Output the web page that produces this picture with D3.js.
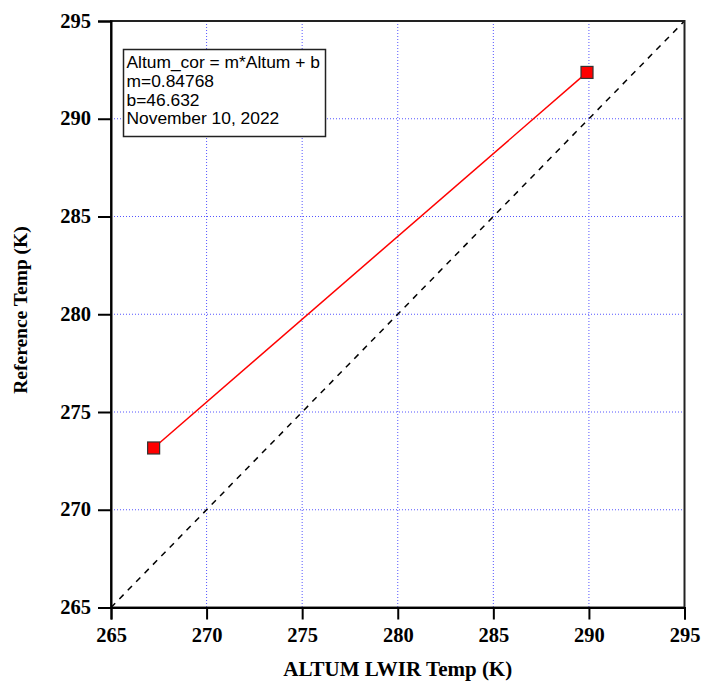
<!DOCTYPE html>
<html>
<head>
<meta charset="utf-8">
<script src="https://cdn.jsdelivr.net/npm/d3@7"></script>
<style>
  html, body { margin: 0; padding: 0; background: #fff; }
  svg { display: block; }
</style>
</head>
<body>
<svg id="chart" width="701" height="684"></svg>
<script>
// Calibration points: ALTUM LWIR reading vs reference temperature (K)
const altumTemps = [267.23, 289.90];
const referenceTemps = [273.16, 292.37];
const xTicks = [265, 270, 275, 280, 285, 290, 295];
const yTicks = [265, 270, 275, 280, 285, 290, 295];
const fitLines = [
  "Altum_cor = m*Altum + b",
  "m=0.84768",
  "b=46.632",
  "November 10, 2022"
];

const svg = d3.select("#chart");
const margin = { left: 111, right: 16.5, top: 21, bottom: 76.5 };
const W = 701, H = 684;

const x = d3.scaleLinear().domain([265, 295]).range([margin.left, W - margin.right]);
const y = d3.scaleLinear().domain([265, 295]).range([H - margin.bottom, margin.top]);

const serif = "'Liberation Serif', 'Times New Roman', serif";
const sans = "'Liberation Sans', Arial, sans-serif";

// dotted grid
const grid = svg.append("g");
grid.selectAll("line.gx").data(xTicks.slice(1, -1)).join("line")
  .attr("x1", d => x(d)).attr("x2", d => x(d))
  .attr("y1", y(295)).attr("y2", y(265))
  .attr("stroke", "#5555ff").attr("stroke-width", 1)
  .attr("stroke-dasharray", "1,2");
grid.selectAll("line.gy").data(yTicks.slice(1, -1)).join("line")
  .attr("y1", d => y(d)).attr("y2", d => y(d))
  .attr("x1", x(265)).attr("x2", x(295))
  .attr("stroke", "#5555ff").attr("stroke-width", 1)
  .attr("stroke-dasharray", "1,2");

// 1:1 reference line
svg.append("line")
  .attr("x1", x(265)).attr("y1", y(265))
  .attr("x2", x(295)).attr("y2", y(295))
  .attr("stroke", "#000").attr("stroke-width", 1.5)
  .attr("stroke-dasharray", "6,6");

// frame
svg.append("rect")
  .attr("x", x(265)).attr("y", y(295))
  .attr("width", x(295) - x(265)).attr("height", y(265) - y(295))
  .attr("fill", "none").attr("stroke", "#222").attr("stroke-width", 2);

// axes
const xAxis = svg.append("g")
  .attr("transform", `translate(0,${y(265)})`)
  .call(d3.axisBottom(x).tickValues(xTicks).tickSize(12).tickPadding(8).tickFormat(d3.format("d")));
const yAxis = svg.append("g")
  .attr("transform", `translate(${x(265)},0)`)
  .call(d3.axisLeft(y).tickValues(yTicks).tickSize(13).tickPadding(7).tickFormat(d3.format("d")));
[xAxis, yAxis].forEach(a => {
  a.select(".domain").attr("stroke", "#000").attr("stroke-width", 2);
  a.selectAll(".tick line").attr("stroke", "#000").attr("stroke-width", 2);
  a.selectAll(".tick text")
    .attr("fill", "#000")
    .style("font-family", serif).style("font-weight", "bold").style("font-size", "20.5px");
});
yAxis.selectAll(".tick text").attr("dy", "0.3em");

// axis titles
svg.append("text")
  .attr("x", (x(265) + x(295)) / 2).attr("y", 676)
  .attr("text-anchor", "middle")
  .style("font-family", serif).style("font-weight", "bold").style("font-size", "21px")
  .text("ALTUM LWIR Temp (K)");
svg.append("text")
  .attr("transform", `translate(27,310) rotate(-90)`)
  .attr("text-anchor", "middle")
  .style("font-family", serif).style("font-weight", "bold").style("font-size", "19.5px")
  .text("Reference Temp (K)");

// fitted line through the calibration points
const pts = altumTemps.map((v, i) => [v, referenceTemps[i]]);
svg.append("path")
  .datum(pts)
  .attr("d", d3.line().x(d => x(d[0])).y(d => y(d[1])))
  .attr("fill", "none").attr("stroke", "#ff0000").attr("stroke-width", 1.5);

const s = 12;
svg.selectAll("rect.pt").data(pts).join("rect")
  .attr("x", d => x(d[0]) - s / 2).attr("y", d => y(d[1]) - s / 2)
  .attr("width", s).attr("height", s)
  .attr("fill", "#ff0000").attr("stroke", "#333").attr("stroke-width", 1.2);

// fit annotation box
const box = svg.append("g");
box.append("rect")
  .attr("x", 123.5).attr("y", 49.5).attr("width", 202).attr("height", 87)
  .attr("fill", "#fff").attr("stroke", "#222").attr("stroke-width", 1.5);
const baselines = [68.3, 86.7, 105.7, 124];
box.selectAll("text").data(fitLines).join("text")
  .attr("x", 126.5).attr("y", (d, i) => baselines[i])
  .style("font-family", sans).style("font-size", "17.4px")
  .text(d => d);
</script>
</body>
</html>
